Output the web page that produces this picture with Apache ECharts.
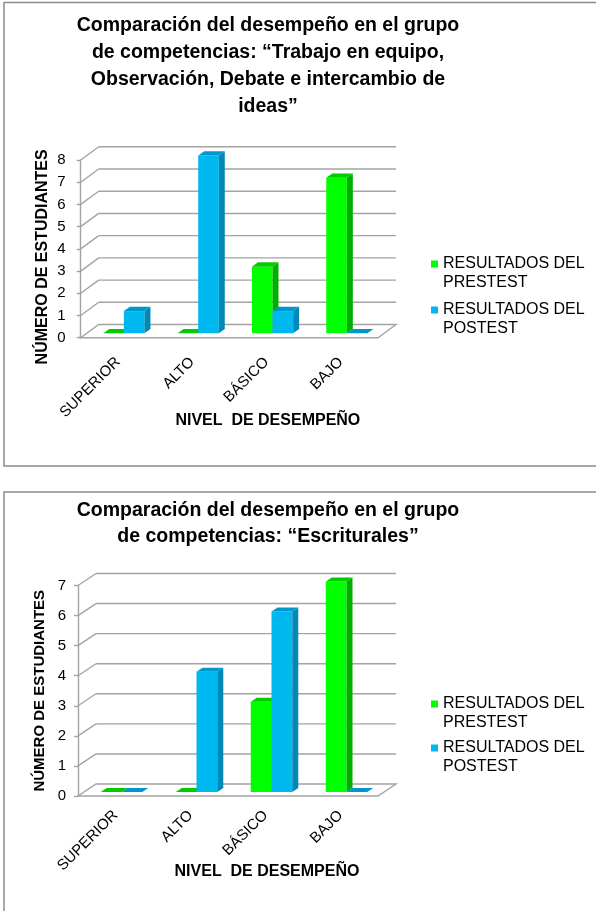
<!DOCTYPE html>
<html>
<head>
<meta charset="utf-8">
<script src="https://cdn.jsdelivr.net/npm/echarts@6/dist/echarts.min.js"></script>
<style>
html,body{margin:0;padding:0;background:#fff;}
#chart{width:596px;height:911px;}
</style>
</head>
<body>
<div id="chart"></div>
<script>
// ---- data ----
const categories = ['SUPERIOR', 'ALTO', 'BÁSICO', 'BAJO'];
const seriesNames = ['RESULTADOS DEL\nPRESTEST', 'RESULTADOS DEL\nPOSTEST'];
const chart1Title = 'Comparación del desempeño en el grupo\nde competencias: “Trabajo en equipo,\nObservación, Debate e intercambio de\nideas”';
const chart2Title = 'Comparación del desempeño en el grupo\nde competencias: “Escriturales”';
const chart1Pretest = [0, 0, 3, 7];
const chart1Postest = [1, 8, 1, 0];
const chart2Pretest = [0, 0, 3, 7];
const chart2Postest = [0, 4, 6, 0];
const chart1YTicks = [0, 1, 2, 3, 4, 5, 6, 7, 8];
const chart2YTicks = [0, 1, 2, 3, 4, 5, 6, 7];
const yAxisName = 'NÚMERO DE ESTUDIANTES';
const xAxisName = 'NIVEL  DE DESEMPEÑO';

// ---- styling ----
const FONT = '"Liberation Sans", Arial, sans-serif';
const GRID_COLOR = '#a3a3a3';
const COLORS = [
  { front: '#00ff00', side: '#00b000', top: '#00cc00' },
  { front: '#00b8f0', side: '#0088b6', top: '#0098cc' }
];

// chart geometry (front plane, depth offset) and text placement
const C1 = {
  left: 80.7, top: 160, width: 297.3, height: 177.7, dx: 18, dy: -13.2,
  titleTop: 12, titleLH: 27, labelMargin: 22, xNameGap: 75, xNamePad: 77,
  yLabelMargin: 15, yNameSize: 16, yNamePad: [0, 16, 0, 0], yNameGap: 30,
  legendIconY: [264, 310]
};
const C2 = {
  left: 78, top: 585.5, width: 300, height: 210.5, dx: 18, dy: -12,
  titleTop: 498, titleLH: 25.5, labelMargin: 17, xNameGap: 68, xNamePad: 78,
  yLabelMargin: 12, yNameSize: 15, yNamePad: 0, yNameGap: 31,
  legendIconY: [704, 748]
};

function wallRender(geom) {
  return function (params, api) {
    const v = api.value(1);
    const cs = params.coordSys;
    const y = api.coord([0, v])[1];
    const x0 = cs.x, x1 = cs.x + cs.width;
    const children = [];
    const ls = { stroke: GRID_COLOR, lineWidth: 1.4, fill: null };
    if (v === 0) {
      children.push({
        type: 'polygon',
        shape: { points: [[x0, y], [x1, y], [x1 + geom.dx, y + geom.dy], [x0 + geom.dx, y + geom.dy]] },
        style: { stroke: GRID_COLOR, lineWidth: 1.4, fill: '#ffffff' }
      });
    } else {
      children.push({ type: 'line', shape: { x1: x0, y1: y, x2: x0 + geom.dx, y2: y + geom.dy }, style: ls });
      children.push({ type: 'line', shape: { x1: x0 + geom.dx, y1: y + geom.dy, x2: x1 + geom.dx, y2: y + geom.dy }, style: ls });
    }
    return { type: 'group', children: children };
  };
}

function barRender(idx, geom) {
  const sx = geom.dx / 3, sy = geom.dy / 3;
  const col = COLORS[idx];
  return function (params, api) {
    const i = api.value(0), v = api.value(1);
    const top = api.coord([i, v]);
    const base = api.coord([i, 0]);
    const band = api.size([1, 0])[0];
    const w = band * 0.277;
    const xl = idx === 0 ? top[0] - w : top[0];
    const xr = xl + w;
    const yt = top[1], yb = base[1];
    return {
      type: 'group',
      children: [
        { type: 'rect', shape: { x: xl, y: yt, width: w, height: yb - yt }, style: { fill: col.front } },
        { type: 'polygon', shape: { points: [[xr, yt], [xr + sx, yt + sy], [xr + sx, yb + sy], [xr, yb]] }, style: { fill: col.side } },
        { type: 'polygon', shape: { points: [[xl, yt], [xr, yt], [xr + sx, yt + sy], [xl + sx, yt + sy]] }, style: { fill: col.top } }
      ]
    };
  };
}

function buildChart(n, geom, title, yMax, yTicks, pre, post) {
  const gF = (n - 1) * 2, gB = gF + 1;
  const grids = [
    { left: geom.left, top: geom.top, width: geom.width, height: geom.height },
    { left: geom.left + geom.dx / 3, top: geom.top + geom.dy / 3, width: geom.width, height: geom.height }
  ];
  const xAxes = [
    {
      type: 'category', gridIndex: gF, data: categories,
      axisLine: { show: false }, axisTick: { show: false },
      axisLabel: { rotate: 45, margin: geom.labelMargin, fontSize: 15, color: '#000', fontFamily: FONT, interval: 0 },
      name: xAxisName, nameLocation: 'middle', nameGap: geom.xNameGap, nameMoveOverlap: false,
      nameTextStyle: { fontSize: 16, fontWeight: 'bold', color: '#000', fontFamily: FONT, padding: [0, 0, 0, geom.xNamePad] }
    },
    { type: 'category', gridIndex: gB, data: categories, show: false }
  ];
  const yAxes = [
    {
      type: 'value', gridIndex: gF, min: 0, max: yMax, interval: 1,
      splitLine: { show: false },
      axisLine: { show: true, lineStyle: { color: GRID_COLOR, width: 1.4 } },
      axisTick: { show: true, length: 4, lineStyle: { color: GRID_COLOR, width: 1.4 } },
      axisLabel: { fontSize: 15, color: '#000', fontFamily: FONT, margin: geom.yLabelMargin },
      name: yAxisName, nameLocation: 'middle', nameGap: geom.yNameGap, nameRotate: 90, nameMoveOverlap: false,
      nameTextStyle: { fontSize: geom.yNameSize, fontWeight: 'bold', color: '#000', fontFamily: FONT, padding: geom.yNamePad }
    },
    { type: 'value', gridIndex: gB, min: 0, max: yMax, interval: 1, show: false }
  ];
  const series = [
    {
      type: 'custom', name: 'walls' + n, xAxisIndex: gF, yAxisIndex: gF, z: 1,
      data: yTicks.map(function (v) { return [0, v]; }),
      renderItem: wallRender(geom), silent: true
    },
    {
      type: 'custom', name: seriesNames[0], xAxisIndex: gB, yAxisIndex: gB, z: 2,
      itemStyle: { color: COLORS[0].front },
      data: pre.map(function (v, i) { return [i, v]; }),
      renderItem: barRender(0, geom)
    },
    {
      type: 'custom', name: seriesNames[1], xAxisIndex: gB, yAxisIndex: gB, z: 3,
      itemStyle: { color: COLORS[1].front },
      data: post.map(function (v, i) { return [i, v]; }),
      renderItem: barRender(1, geom)
    }
  ];
  const titleObj = {
    text: title, left: 268, top: geom.titleTop, textAlign: 'center', padding: 0,
    textStyle: { fontSize: 19.5, fontWeight: 'bold', color: '#000', fontFamily: FONT, lineHeight: geom.titleLH }
  };
  const LH = 19;
  const legends = seriesNames.map(function (nm, k) {
    return {
      data: [nm], orient: 'vertical', left: 431, top: geom.legendIconY[k] - 1.5 * LH, padding: 0,
      itemWidth: 7, itemHeight: 7, icon: 'rect', selectedMode: false,
      formatter: function (name) { return '\n' + name; },
      textStyle: { fontSize: 16, color: '#000', fontFamily: FONT, lineHeight: LH }
    };
  });
  return { grids: grids, xAxes: xAxes, yAxes: yAxes, series: series, title: titleObj, legends: legends };
}

const a = buildChart(1, C1, chart1Title, 8, chart1YTicks, chart1Pretest, chart1Postest);
const b = buildChart(2, C2, chart2Title, 7, chart2YTicks, chart2Pretest, chart2Postest);

const chart = echarts.init(document.getElementById('chart'), null, { renderer: 'canvas' });
chart.setOption({
  animation: false,
  backgroundColor: '#ffffff',
  title: [a.title, b.title],
  legend: a.legends.concat(b.legends),
  grid: a.grids.concat(b.grids),
  xAxis: a.xAxes.concat(b.xAxes),
  yAxis: a.yAxes.concat(b.yAxes),
  series: a.series.concat(b.series),
  graphic: [
    { type: 'rect', shape: { x: 4, y: 2.5, width: 700, height: 463.5 }, style: { fill: null, stroke: '#8c8c8c', lineWidth: 1.5 }, silent: true },
    { type: 'rect', shape: { x: 4, y: 492, width: 700, height: 500 }, style: { fill: null, stroke: '#8c8c8c', lineWidth: 1.5 }, silent: true }
  ]
});
</script>
</body>
</html>
